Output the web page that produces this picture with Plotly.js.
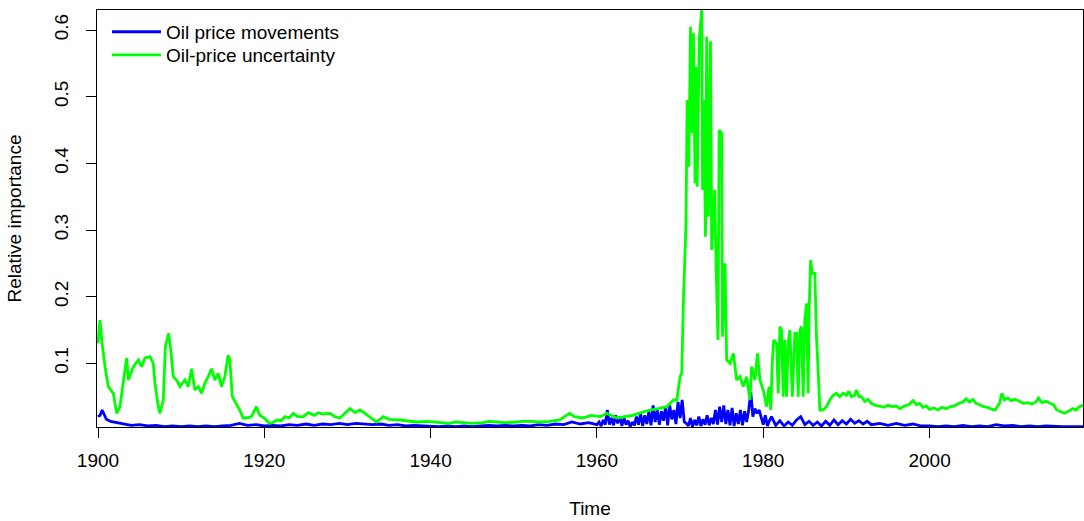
<!DOCTYPE html>
<html>
<head>
<meta charset="utf-8">
<script src="https://cdn.plot.ly/plotly-3.0.1.min.js"></script>
<style>html,body{margin:0;padding:0;background:#fff;}#chart{width:1084px;height:521px;}</style>
</head>
<body>
<div id="chart"></div>
<script>
// Oil price movements (blue): [year, value]
const bluePoints = [
[1900.0,0.02],[1900.25,0.022],[1900.5,0.03],[1900.75,0.022],[1901.0,0.016],[1901.5,0.013],[1902,0.012],[1902.5,0.01],
[1903,0.009],[1904,0.007],[1905,0.008],[1906,0.006],[1907,0.007],[1908,0.005],[1909,0.006],[1910,0.005],[1911,0.006],[1912,0.005],
[1913,0.006],[1914,0.005],[1915,0.006],[1916,0.007],[1917,0.01],[1918,0.007],[1919,0.008],[1920,0.006],[1921,0.007],[1922,0.006],
[1923,0.008],[1924,0.007],[1925,0.009],[1926,0.007],[1927,0.009],[1928,0.008],[1929,0.01],[1930,0.008],[1931,0.01],[1932,0.009],
[1933,0.008],[1934,0.009],[1935,0.007],[1936,0.008],[1937,0.006],[1938,0.007],[1939,0.006],[1940,0.006],[1941,0.005],[1942,0.006],
[1943,0.005],[1944,0.006],[1945,0.005],[1946,0.006],[1947,0.007],[1948,0.006],[1949,0.007],[1950,0.006],[1951,0.007],[1952,0.006],
[1953,0.008],[1954,0.007],[1955,0.009],[1956,0.008],[1957,0.012],[1958,0.009],[1959,0.011],
[1960.0,0.008],[1960.25,0.012],[1960.5,0.006],[1960.75,0.015],[1961.0,0.008],[1961.25,0.03],[1961.5,0.008],[1961.75,0.018],
[1962.0,0.007],[1962.25,0.022],[1962.5,0.01],[1962.75,0.02],[1963.0,0.006],[1963.25,0.018],[1963.5,0.008],[1963.75,0.014],
[1964.0,0.005],[1964.25,0.012],[1964.5,0.007],[1964.75,0.02],[1965.0,0.008],[1965.25,0.025],[1965.5,0.006],[1965.75,0.022],
[1966.0,0.009],[1966.25,0.028],[1966.5,0.007],[1966.75,0.037],[1967.0,0.012],[1967.25,0.03],[1967.5,0.008],[1967.75,0.028],
[1968.0,0.014],[1968.25,0.035],[1968.5,0.007],[1968.75,0.037],[1969.0,0.016],[1969.25,0.03],[1969.5,0.009],[1969.75,0.042],
[1970.0,0.018],[1970.25,0.045],[1970.5,0.012],[1970.75,0.01],[1971.0,0.006],[1971.25,0.018],[1971.5,0.005],[1971.75,0.015],
[1972.0,0.007],[1972.25,0.02],[1972.5,0.006],[1972.75,0.016],[1973.0,0.008],[1973.25,0.022],[1973.5,0.007],[1973.75,0.018],
[1974.0,0.009],[1974.25,0.03],[1974.5,0.008],[1974.75,0.035],[1975.0,0.012],[1975.25,0.037],[1975.5,0.009],[1975.75,0.03],
[1976.0,0.007],[1976.25,0.033],[1976.5,0.006],[1976.75,0.025],[1977.0,0.009],[1977.25,0.03],[1977.5,0.007],[1977.75,0.028],
[1978.0,0.012],[1978.25,0.03],[1978.5,0.057],[1978.75,0.02],[1979.0,0.032],[1979.25,0.025],[1979.5,0.03],[1979.75,0.018],
[1980.0,0.008],[1980.25,0.022],[1980.5,0.006],[1980.75,0.014],[1981.0,0.02],[1981.5,0.007],[1982.0,0.014],[1982.5,0.006],
[1983.0,0.012],[1983.5,0.007],[1984.0,0.015],[1984.5,0.02],[1985.0,0.008],[1985.5,0.013],[1986.0,0.007],[1986.5,0.012],
[1987.0,0.006],[1987.5,0.013],[1988.0,0.007],[1988.5,0.015],[1989.0,0.008],[1989.5,0.014],[1990.0,0.009],[1990.5,0.016],
[1991.0,0.01],[1991.5,0.014],[1992.0,0.009],[1992.5,0.013],[1993.0,0.008],[1994,0.01],[1995,0.007],[1996,0.01],[1997,0.007],
[1998,0.009],[1999,0.006],[2000,0.006],[2001,0.005],[2002,0.006],[2003,0.005],[2004,0.007],[2005,0.005],[2006,0.006],[2007,0.005],
[2008,0.008],[2009,0.006],[2010,0.007],[2011,0.005],[2012,0.006],[2013,0.005],[2014,0.006],[2015,0.005],[2016,0.005],[2017,0.005],[2018.5,0.005]
];

// Oil-price uncertainty (green): [year, value]
const greenPoints = [
[1900.0,0.13],[1900.24,0.165],[1900.45,0.135],[1900.84,0.095],[1901.24,0.065],[1901.84,0.055],[1902.25,0.025],[1902.65,0.035],
[1902.85,0.055],[1903.45,0.108],[1903.65,0.075],[1904.25,0.095],[1904.85,0.105],[1905.25,0.095],[1905.65,0.108],[1906.25,0.11],
[1906.65,0.1],[1906.85,0.07],[1907.25,0.035],[1907.45,0.025],[1907.85,0.045],[1908.1,0.125],[1908.5,0.145],[1908.75,0.12],
[1909.05,0.08],[1909.45,0.075],[1909.85,0.065],[1910.45,0.075],[1910.85,0.065],[1911.25,0.092],[1911.65,0.06],[1912.05,0.065],
[1912.45,0.055],[1912.85,0.07],[1913.25,0.08],[1913.65,0.092],[1914.05,0.075],[1914.45,0.085],[1914.85,0.065],[1915.25,0.08],
[1915.65,0.112],[1915.85,0.105],[1916.15,0.05],[1916.65,0.04],[1917.05,0.03],[1917.45,0.018],[1917.85,0.018],[1918.45,0.02],
[1919.05,0.035],[1919.45,0.022],
[1920.0,0.018],[1920.6,0.01],[1921.0,0.011],[1921.5,0.015],[1922,0.014],[1922.5,0.02],[1923,0.018],[1923.5,0.025],[1924,0.02],
[1924.7,0.02],[1925.3,0.026],[1926,0.022],[1926.5,0.026],[1927,0.024],[1927.9,0.025],[1928.5,0.02],[1929.1,0.018],[1929.7,0.025],
[1930.3,0.032],[1930.9,0.026],[1931.5,0.03],[1932.1,0.025],[1932.7,0.02],[1933.5,0.012],[1934.3,0.02],[1935,0.016],[1936.3,0.015],
[1937.5,0.013],[1938.3,0.012],[1939.5,0.013],[1940.3,0.012],[1941.5,0.011],[1942.3,0.01],[1943,0.012],[1944,0.011],[1945,0.01],
[1946.3,0.011],[1947,0.013],[1948,0.012],[1949,0.011],[1950.3,0.012],[1951,0.013],[1952,0.013],[1953,0.012],[1954.3,0.013],
[1955.5,0.015],[1956.7,0.025],[1957.3,0.02],[1958.3,0.018],[1959.3,0.022],[1960.4,0.02],[1961.2,0.025],[1962.4,0.018],[1963.3,0.02],
[1964.3,0.022],[1965.3,0.026],[1966.4,0.03],[1967.4,0.032],[1968.4,0.035],[1969.2,0.045],[1969.6,0.045],
[1970.0,0.08],[1970.2,0.085],[1970.4,0.195],[1970.7,0.305],[1970.85,0.495],[1971.05,0.395],[1971.25,0.605],[1971.45,0.445],
[1971.6,0.595],[1971.8,0.37],[1971.9,0.545],[1972.05,0.365],[1972.3,0.585],[1972.6,0.63],[1972.7,0.36],[1972.85,0.495],
[1973.05,0.29],[1973.2,0.59],[1973.4,0.32],[1973.65,0.583],[1973.8,0.27],[1974.15,0.36],[1974.35,0.235],[1974.55,0.135],
[1974.7,0.45],[1975.0,0.445],[1975.1,0.14],[1975.4,0.25],[1975.6,0.105],[1976.0,0.1],[1976.4,0.115],[1976.8,0.075],[1977.2,0.08],
[1977.6,0.065],[1978.0,0.08],[1978.4,0.045],[1978.6,0.095],[1979.0,0.075],[1979.3,0.115],[1979.6,0.075],[1980.0,0.06],[1980.4,0.035],
[1980.7,0.065],[1980.9,0.03],[1981.1,0.105],[1981.25,0.135],[1981.6,0.13],[1981.8,0.055],[1982.0,0.155],[1982.2,0.15],[1982.4,0.05],
[1982.6,0.135],[1982.8,0.05],[1983.0,0.13],[1983.2,0.15],[1983.5,0.05],[1983.8,0.145],[1984.0,0.145],[1984.2,0.05],[1984.4,0.15],
[1984.6,0.155],[1984.8,0.05],[1985.0,0.165],[1985.2,0.19],[1985.4,0.055],[1985.5,0.175],[1985.7,0.255],[1985.9,0.235],[1986.2,0.235],
[1986.4,0.14],[1986.6,0.09],[1986.8,0.03],[1987.2,0.03],[1987.6,0.035],
[1988.0,0.045],[1988.4,0.052],[1988.8,0.055],[1989.2,0.05],[1989.6,0.055],[1990.0,0.052],[1990.3,0.058],[1990.6,0.05],[1991.0,0.052],
[1991.2,0.06],[1991.5,0.05],[1991.8,0.05],[1992.2,0.043],[1992.6,0.046],[1993.0,0.04],[1993.5,0.037],[1994.0,0.036],[1994.5,0.034],
[1995.0,0.037],[1995.5,0.035],[1996.0,0.036],[1996.4,0.032],[1997.0,0.036],[1997.5,0.038],[1998.0,0.044],[1998.4,0.038],[1998.8,0.04],
[1999.2,0.034],[1999.6,0.036],[2000.0,0.031],[2000.5,0.033],[2001.0,0.03],[2001.5,0.034],[2002.0,0.032],[2002.5,0.035],[2003.0,0.036],
[2003.5,0.04],[2004.0,0.042],[2004.4,0.047],[2004.8,0.042],[2005.2,0.046],[2005.6,0.04],[2006.0,0.038],[2006.5,0.035],[2007.0,0.034],
[2007.5,0.031],[2007.9,0.03],[2008.4,0.04],[2008.7,0.055],[2009.0,0.045],[2009.4,0.048],[2009.8,0.044],[2010.3,0.046],[2010.8,0.043],
[2011.3,0.04],[2011.8,0.041],[2012.3,0.039],[2012.8,0.042],[2013.1,0.048],[2013.5,0.041],[2014.0,0.043],[2014.5,0.04],[2014.9,0.038],
[2015.3,0.03],[2015.8,0.027],[2016.2,0.025],[2016.7,0.028],[2017.2,0.032],[2017.6,0.03],[2018.0,0.035],[2018.5,0.037]
];

const seriesNames = ['Oil price movements', 'Oil-price uncertainty'];
const seriesColors = ['#0000FF', '#00FF00'];
const xTicks = [1900, 1920, 1940, 1960, 1980, 2000];
const yTicks = [0.1, 0.2, 0.3, 0.4, 0.5, 0.6];

const FONT = 'Liberation Sans, Arial, Helvetica, sans-serif';

const traces = [bluePoints, greenPoints].map((pts, i) => ({
  x: pts.map(p => p[0]), y: pts.map(p => p[1]),
  type: 'scatter', mode: 'lines', name: seriesNames[i],
  legend: i === 0 ? 'legend' : 'legend2',
  line: {color: seriesColors[i], width: 2.8}
}));

const legendBase = {x: 0.0101, xanchor: 'left', yanchor: 'top', bgcolor: 'rgba(0,0,0,0)',
                    itemwidth: 49, font: {family: FONT, size: 19, color: '#000'}};

const layout = {
  width: 1084, height: 521,
  margin: {l: 97, r: 1, t: 10, b: 94},
  paper_bgcolor: '#fff', plot_bgcolor: '#fff',
  font: {family: FONT, size: 19, color: '#000'},
  showlegend: true,
  legend: Object.assign({}, legendBase, {y: 0.993}),
  legend2: Object.assign({}, legendBase, {y: 0.9378}),
  xaxis: {range: [1899.88, 2018.45], tickmode: 'array', tickvals: xTicks, ticktext: xTicks.map(String),
          ticks: 'outside', ticklen: 10, tickwidth: 1, tickcolor: '#000', ticklabelstandoff: 6,
          showline: true, mirror: true, linecolor: '#000', linewidth: 1,
          showgrid: false, zeroline: false,
          tickfont: {family: FONT, size: 19},
          title: {text: 'Time', font: {family: FONT, size: 19}, standoff: 31}},
  yaxis: {range: [0.0045, 0.63], tickmode: 'array', tickvals: yTicks, ticktext: yTicks.map(String),
          ticks: 'outside', ticklen: 10, tickwidth: 1, tickcolor: '#000', tickangle: -90, ticklabelstandoff: 10,
          showline: true, mirror: true, linecolor: '#000', linewidth: 1,
          showgrid: false, zeroline: false,
          tickfont: {family: FONT, size: 19},
          title: {text: 'Relative importance', font: {family: FONT, size: 19}, standoff: 24}}
};

Plotly.newPlot('chart', traces, layout, {displayModeBar: false, staticPlot: true});
</script>
</body>
</html>
